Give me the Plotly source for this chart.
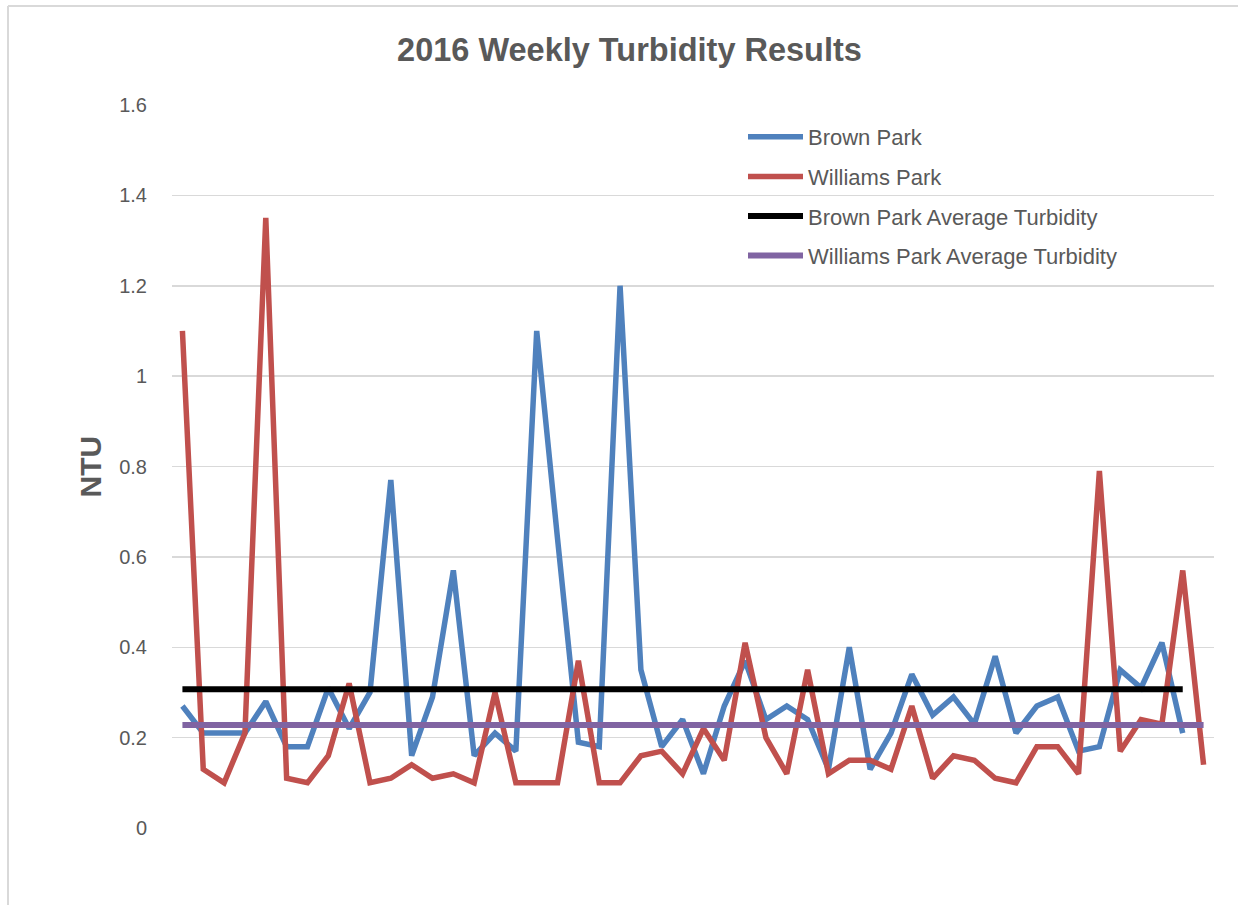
import plotly.graph_objects as go

weeks = list(range(1, 51))

brown_park = [0.27, 0.21, 0.21, 0.21, 0.28, 0.18, 0.18, 0.31, 0.22, 0.30,
              0.77, 0.16, 0.29, 0.57, 0.16, 0.21, 0.17, 1.10, 0.64, 0.19,
              0.18, 1.20, 0.35, 0.18, 0.24, 0.12, 0.27, 0.37, 0.24, 0.27,
              0.24, 0.13, 0.40, 0.13, 0.21, 0.34, 0.25, 0.29, 0.23, 0.38,
              0.21, 0.27, 0.29, 0.17, 0.18, 0.35, 0.31, 0.41, 0.21]

williams_park = [1.10, 0.13, 0.10, 0.21, 1.35, 0.11, 0.10, 0.16, 0.32, 0.10,
                 0.11, 0.14, 0.11, 0.12, 0.10, 0.30, 0.10, 0.10, 0.10, 0.37,
                 0.10, 0.10, 0.16, 0.17, 0.12, 0.22, 0.15, 0.41, 0.20, 0.12,
                 0.35, 0.12, 0.15, 0.15, 0.13, 0.27, 0.11, 0.16, 0.15, 0.11,
                 0.10, 0.18, 0.18, 0.12, 0.79, 0.17, 0.24, 0.23, 0.57, 0.14]

brown_avg = 0.307
williams_avg = 0.228

y_ticks = [0, 0.2, 0.4, 0.6, 0.8, 1.0, 1.2, 1.4, 1.6]
y_tick_labels = ["0", "0.2", "0.4", "0.6", "0.8", "1", "1.2", "1.4", "1.6"]

series_names = ["Brown Park", "Williams Park",
                "Brown Park Average Turbidity", "Williams Park Average Turbidity"]

TEXT = "#595959"
GRID = "#D9D9D9"
FONT = "Liberation Sans, Arial, sans-serif"

fig = go.Figure()
fig.add_trace(go.Scatter(x=weeks[:len(brown_park)], y=brown_park, mode="lines",
                         name=series_names[0], legendgroup="g1",
                         line=dict(color="#4F81BD", width=5.5)))
fig.add_trace(go.Scatter(x=weeks[:len(williams_park)], y=williams_park, mode="lines",
                         name=series_names[1], legendgroup="g2",
                         line=dict(color="#C0504D", width=5.5)))
fig.add_trace(go.Scatter(x=weeks[:len(brown_park)], y=[brown_avg] * len(brown_park), mode="lines",
                         name=series_names[2], legendgroup="g3",
                         line=dict(color="#000000", width=6)))
fig.add_trace(go.Scatter(x=weeks[:len(williams_park)], y=[williams_avg] * len(williams_park), mode="lines",
                         name=series_names[3], legendgroup="g4",
                         line=dict(color="#8064A2", width=6)))

fig.update_layout(
    width=1238, height=905,
    margin=dict(l=172, r=24, t=105, b=77, pad=0),
    paper_bgcolor="white", plot_bgcolor="white",
    font=dict(family=FONT, color=TEXT, size=20),
    title=dict(text="<b>2016 Weekly Turbidity Results</b>",
               font=dict(family=FONT, size=32.5, color=TEXT),
               x=629.5 / 1238, xref="container", xanchor="center",
               y=1 - 50 / 905, yref="container", yanchor="middle"),
    showlegend=True,
    legend=dict(x=(743 - 172) / 1042, y=(828 - 116) / 723, xanchor="left", yanchor="top",
                bgcolor="rgba(0,0,0,0)", borderwidth=0,
                font=dict(family=FONT, size=22, color=TEXT),
                itemwidth=55, tracegroupgap=8, traceorder="grouped"),
    xaxis=dict(range=[0.5, 50.5], showticklabels=False, showgrid=False,
               zeroline=False, showline=False, ticks=""),
    yaxis=dict(range=[0, 1.6], tickvals=y_ticks, ticktext=y_tick_labels,
               showgrid=True, gridcolor=GRID, gridwidth=1.5,
               zeroline=False, showline=False, ticks="",
               ticklabelstandoff=24,
               tickfont=dict(family=FONT, size=20, color=TEXT)),
    annotations=[dict(text="<b>NTU</b>", textangle=-90, showarrow=False,
                      xref="paper", yref="paper",
                      x=(90 - 172) / 1042, y=0.5, xanchor="center", yanchor="middle",
                      font=dict(family=FONT, size=30, color=TEXT))],
    shapes=[
        dict(type="line", xref="paper", yref="paper",
             x0=(8 - 172) / 1042, x1=(1260 - 172) / 1042,
             y0=(828 - 6) / 723, y1=(828 - 6) / 723,
             line=dict(color=GRID, width=2), layer="below"),
        dict(type="line", xref="paper", yref="paper",
             x0=(8 - 172) / 1042, x1=(8 - 172) / 1042,
             y0=(828 - 6) / 723, y1=(828 - 920) / 723,
             line=dict(color=GRID, width=2), layer="below"),
    ],
)

fig.write_html("out.html",
               config={"displayModeBar": False, "staticPlot": True},
               post_script="document.body.style.margin='0';document.body.style.overflow='hidden';")
